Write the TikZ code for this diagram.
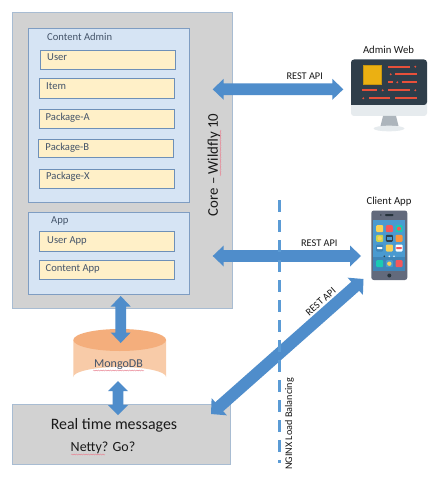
\documentclass[tikz,border=0pt]{standalone}
\usepackage{fontspec}
\setmainfont{Carlito}
\usetikzlibrary{calc,decorations.pathmorphing}
\definecolor{coregray}{HTML}{D2D2D2}
\definecolor{coreline}{HTML}{A8BCD2}
\definecolor{panelblue}{HTML}{D6E4F4}
\definecolor{panelline}{HTML}{7F9DC2}
\definecolor{itemfill}{HTML}{FFF0C8}
\definecolor{itemline}{HTML}{6E90B8}
\definecolor{arrowblue}{HTML}{4F8DCB}
\definecolor{dashblue}{HTML}{5B9BD5}
\definecolor{inktext}{HTML}{44546A}
\definecolor{cyltop}{HTML}{F4AE7C}
\definecolor{cylbody}{HTML}{F8CBA8}
\definecolor{mondark}{HTML}{2F3E4A}
\definecolor{monlight}{HTML}{E6EBEE}
\definecolor{monstand}{HTML}{ADB5BC}
\definecolor{monred}{HTML}{E8503A}
\definecolor{monyellow}{HTML}{EBB012}
\definecolor{phonebody}{HTML}{626A7C}
\definecolor{phonescreen}{HTML}{4A9AD0}
\definecolor{phonedock}{HTML}{3F85B8}
\definecolor{iyellow}{HTML}{F9D257}
\definecolor{ired}{HTML}{F4575B}
\definecolor{iteal}{HTML}{1ACBB2}
\definecolor{ilime}{HTML}{C9D350}
\definecolor{iorange}{HTML}{F9953E}
\definecolor{squiggle}{HTML}{E88090}
\tikzset{
  x=1bp,y=-1bp,
  corebox/.style={draw=coreline,fill=coregray,line width=1bp},
  panelbox/.style={draw=panelline,fill=panelblue,line width=1bp},
  itembox/.style={draw=itemline,fill=itemfill,line width=1bp,minimum width=135bp,inner sep=0pt,rectangle},
  smalltext/.style={text=inktext,font=\fontsize{10.6bp}{12bp}\selectfont,inner sep=0pt,anchor=west,text height=7bp,text depth=2bp},
  darktext/.style={text=black!90,inner sep=0pt},
  blockarrow/.style={fill=arrowblue,draw=none},
  wavy/.style={draw=squiggle,line width=.4bp,decorate,decoration={snake,amplitude=.5bp,segment length=2.4bp}},
  redbar/.style={draw=monred,line width=1.7bp},
  reddot/.style={fill=monred},
  icon/.style={rounded corners=1bp},
}
\newcommand{\dblarrow}[5]{% A, B, head length, head half width, shaft half width
  \fill[blockarrow] (#1)
    -- ($(#1)!#3!(#2)!#4!90:(#2)$) -- ($(#1)!#3!(#2)!#5!90:(#2)$)
    -- ($(#2)!#3!(#1)!#5!-90:(#1)$) -- ($(#2)!#3!(#1)!#4!-90:(#1)$)
    -- (#2)
    -- ($(#2)!#3!(#1)!#4!90:(#1)$) -- ($(#2)!#3!(#1)!#5!90:(#1)$)
    -- ($(#1)!#3!(#2)!#5!-90:(#2)$) -- ($(#1)!#3!(#2)!#4!-90:(#2)$)
    -- cycle;}
\newcommand{\redline}[3]{\draw[redbar] ({200+#1/3},#3) -- ({200+#2/3},#3);}
\newcommand{\reddotat}[2]{\fill[reddot] ({200+#1/3},#2) circle (1.1bp);}
\newcommand{\appicon}[3]{\fill[icon,fill=#3] ({#1-3.5},{#2-3.5}) rectangle ({#1+3.5},{#2+3.5});}
\begin{document}
\begin{tikzpicture}
\useasboundingbox (0,0) rectangle (447,486);
\fill[white] (0,0) rectangle (447,486);
% Core
\draw[corebox] (12,13) rectangle (232,308);
\draw[panelbox] (28,29) rectangle (189,202);
\draw[panelbox] (28,212) rectangle (189,294);
\node[smalltext] (tadmin) at (47,38.5) {Content Admin};
\node[itembox,minimum height=19bp] (buser) at (108,60.5) {};
\node[itembox,minimum height=19.5bp] (bitem) at (106.8,88.7) {};
\node[itembox,minimum height=19bp] (bpa) at (106.8,119.5) {};
\node[itembox,minimum height=17.5bp] (bpb) at (106.3,148.5) {};
\node[itembox,minimum height=18bp] (bpx) at (106.8,179) {};
\node[smalltext] (tuser) at (47,58) {User};
\node[smalltext] (titem) at (46,87) {Item};
\node[smalltext] (tpa) at (45.5,118) {Package-A};
\node[smalltext] (tpb) at (45.3,148) {Package-B};
\node[smalltext] (tpx) at (46,177) {Package-X};
\node[smalltext] (tapp) at (51,221) {App};
\node[itembox,minimum height=20bp] (buapp) at (107.3,241) {};
\node[itembox,minimum height=18.5bp] (bcapp) at (106.8,270.2) {};
\node[smalltext] (tuapp) at (47,241) {User App};
\node[smalltext] (tcapp) at (45.5,269) {Content App};
\node[darktext,rotate=90,font=\fontsize{14.8bp}{16bp}\selectfont] (tcore) at (214,165) {Core – Wildfly 10};
\draw[wavy] (220.5,176) -- (220.5,130);
% MongoDB
\path[fill=cylbody] (73.3,340) -- (73.3,377) arc[start angle=180,end angle=0,x radius=46.4,y radius=-10] -- (166.1,340) -- cycle;
\fill[cyltop] (119.7,340) ellipse (46.4 and 11);
\node[text=inktext,inner sep=0pt,font=\fontsize{12bp}{14bp}\selectfont] (tmongo) at (118.5,365) {MongoDB};
\draw[wavy] (93,370.5) -- (144,370.5);
% Real time
\draw[corebox] (12,404) rectangle (230,464);
\node[darktext,font=\fontsize{15.9bp}{18bp}\selectfont] (trt) at (114,425) {Real time messages};
\node[darktext,font=\fontsize{14bp}{16bp}\selectfont] (tnetty) at (103,448) {Netty? Go?};
\draw[wavy] (71,454.5) -- (105,454.5);
% Arrow ends
\coordinate (a1l) at (212.7,89.3);
\coordinate (a1r) at (343.3,89.3);
\coordinate (a2l) at (212.7,256);
\coordinate (a2r) at (361,256);
\coordinate (a3t) at (120.7,296);
\coordinate (a3b) at (120.7,343);
\coordinate (a4t) at (118,381);
\coordinate (a4b) at (118,415);
\coordinate (a5l) at (211,414);
\coordinate (a5r) at (363.5,279);
\dblarrow{a1l}{a1r}{11bp}{10.5bp}{5.8bp}
\dblarrow{a2l}{a2r}{11bp}{10.5bp}{5.8bp}
\dblarrow{a3t}{a3b}{10.5bp}{10bp}{5.3bp}
\dblarrow{a4t}{a4b}{10bp}{10bp}{5.3bp}
\dblarrow{a5l}{a5r}{11bp}{11.5bp}{6bp}
% Dashed line
\draw[dashblue,line width=3bp,dash pattern=on 12bp off 8bp] (279,200) -- (279,463);
\node[darktext,rotate=90,font=\fontsize{10.2bp}{12bp}\selectfont] (tnginx) at (289.5,424) {NGINX Load Balancing};
% REST API labels
\node[darktext,font=\fontsize{10.3bp}{12bp}\selectfont] (tr1) at (304.7,76) {REST API};
\node[darktext,font=\fontsize{10.3bp}{12bp}\selectfont] (tr2) at (319.3,243) {REST API};
\node[darktext,rotate=41.6,font=\fontsize{10.3bp}{12bp}\selectfont] (tr3) at (320.7,301.5) {REST API};
% Admin Web monitor
\node[darktext,font=\fontsize{10.7bp}{12bp}\selectfont] (tadminweb) at (388.5,50) {Admin Web};
\fill[monlight,rounded corners=3bp] (351,90) rectangle (427,116);
\fill[mondark,rounded corners=3bp] (351,105) -- (351,59.5) -- (427,59.5) -- (427,105) [sharp corners] -- cycle;
\fill[monstand] (383,116) -- (396,116) -- (398.5,126) -- (380.5,126) -- cycle;
\fill[monlight] (389,128.5) ellipse (15.5 and 2.8);
\draw[fill=monyellow,draw=monyellow!85!black,line width=.5bp] (363,65) rectangle (381.5,84);
\redline{565}{630}{66.7}\reddotat{646}{66.7}
\reddotat{572}{74.3}\redline{585}{650}{74.3}
\redline{565}{578}{82.3}\reddotat{592}{82.3}\redline{605}{650}{82.3}
\redline{485}{532}{90.3}\reddotat{548}{90.3}\redline{565}{630}{90.3}\reddotat{646}{90.3}
\reddotat{490}{98.3}\redline{507}{570}{98.3}\redline{585}{650}{98.3}
% Client App phone
\node[darktext,font=\fontsize{10.7bp}{12bp}\selectfont] (tclient) at (389,201.5) {Client App};
\fill[phonebody,rounded corners=2.5bp] (371.3,210.5) rectangle (407.3,280);
\fill[phonescreen] (373.3,220) rectangle (405.3,270.7);
\fill[phonedock] (373.3,256.5) rectangle (405.3,270.7);
\fill[mondark!80!black,rounded corners=.8bp] (385,214) rectangle (393.5,216);
\fill[mondark!80!black] (380.8,215) circle (.8bp);
\fill[mondark!80!black] (389.3,275.5) circle (2bp);
\appicon{379.7}{228.7}{iyellow}\appicon{389.3}{228.7}{ired}\appicon{399}{228.7}{iteal}
\fill[ired] (399,228.7) circle (2bp);
\appicon{379.7}{238.3}{ilime}\appicon{389.3}{238.3}{mondark}\appicon{399}{238.3}{iorange}
\fill[iyellow] (379.7,238.3) circle (2.2bp);
\fill[phonescreen] (387,236.6) rectangle (391.6,240);
\appicon{379.7}{248}{phonedock}\appicon{389.3}{248}{iyellow}\appicon{399}{248}{white}
\fill[white,rounded corners=.6bp] (377,247) rectangle (382.4,249);
\fill[ired,rounded corners=.6bp] (396.2,247) rectangle (401.8,249);
\fill[mondark] (384.3,256.3) circle (.9bp);
\fill[white!85!phonescreen] (389.3,256.3) circle (.9bp);
\fill[white!85!phonescreen] (394,256.3) circle (.9bp);
\appicon{379.7}{263.7}{iteal}\appicon{389.3}{263.7}{phonescreen}\appicon{399}{263.7}{ired}
\fill[iyellow] (389.3,263.7) circle (2.2bp);
\end{tikzpicture}
\end{document}
